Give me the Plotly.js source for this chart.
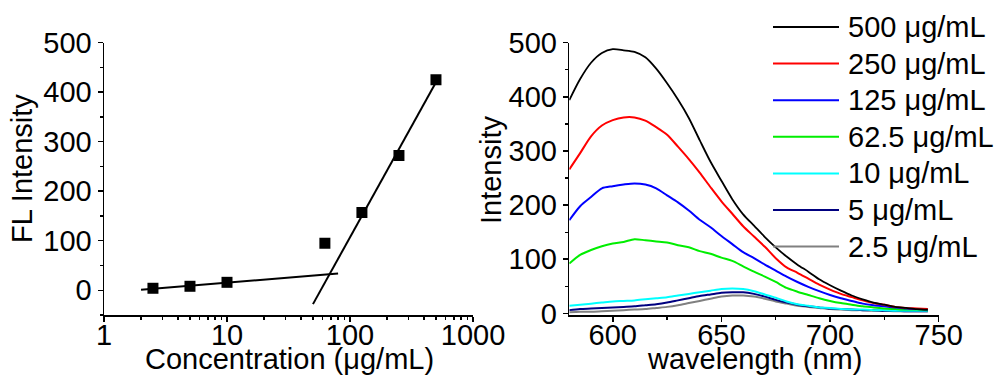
<!DOCTYPE html>
<html>
<head>
<meta charset="utf-8">
<script src="https://cdn.plot.ly/plotly-3.0.1.min.js"></script>
<style>html,body{margin:0;padding:0;background:#fff;}#chart{width:996px;height:378px;}</style>
</head>
<body>
<div id="chart"></div>
<script>
// ---- Left panel: FL intensity vs concentration ----
const conc = [2.5, 5, 10, 62.5, 125, 250, 500];
const flIntensity = [4, 8, 16, 95, 157, 272, 425];
const fitLowX = [2, 80];
const fitLowY = [1, 34];
const fitHighX = [50, 500];
const fitHighY = [-28, 420];
const concTicks = [1, 10, 100, 1000];
const concTickText = ['1', '10', '100', '1000'];
const leftXTitle = 'Concentration (\u03bcg/mL)';
const leftYTitle = 'FL Intensity';

// ---- Right panel: emission spectra ----
const wavelength = [580,585,590,595,600,605,610,615,620,625,630,635,640,645,650,655,660,665,670,675,680,685,690,695,700,705,710,715,720,725,730,735,740,745];
const spec500  = [394,433,463,481,488,486,483,473,452,425,395,361,320,280,245,211,183,162,141,122,105,90,77,63,52,42,33,26,20,16,12,10,8,7];
const spec250  = [266,296,327,347,357,362,362,356,344,330,308,285,260,233,207,184,161,142,123,102,85,75,64,53,44,36,30,24,19,16,12,10,9,8];
const spec125  = [172,198,215,231,235,238,240,238,231,218,205,190,173,159,143,128,113,102,90,79,68,58,49,41,34,28,23,18,15,13,11,9,8,7];
const spec62_5 = [92,108,117,124,129,132,137,135,133,131,126,122,115,110,103,97,87,77,68,58,47,40,34,28,23,19,16,13,11,9,8,7,7,6];
const spec10   = [14,16,18,20,22,23,24,26,28,30,33,36,39,42,45,46,45,41,35,29,22,17,14,11,10,8,7,7,6,6,5,5,5,5];
const spec5    = [6,8,9,10,11,12,13,15,17,20,24,28,32,35,38,39,39,36,31,25,20,16,13,11,9,8,7,6,6,5,5,4,4,4];
const spec2_5  = [2,3,3,4,5,6,7,8,10,12,15,19,23,27,31,33,33,31,27,22,18,14,12,10,8,7,6,6,5,5,4,4,4,4];
const seriesNames = ['500 \u03bcg/mL','250 \u03bcg/mL','125 \u03bcg/mL','62.5 \u03bcg/mL','10 \u03bcg/mL','5 \u03bcg/mL','2.5 \u03bcg/mL'];
const seriesColors = ['#000000','#ff0000','#0000ff','#00ee00','#00ffff','#000080','#808080'];
const seriesData = [spec500, spec250, spec125, spec62_5, spec10, spec5, spec2_5];
const rightXTitle = 'wavelength (nm)';
const rightYTitle = 'Intensity';

const FONT = 'Liberation Sans, Arial, sans-serif';
const FS = 29;
const W = 996, H = 378;

const traces = [];
traces.push({x: fitLowX, y: fitLowY, xaxis: 'x', yaxis: 'y', mode: 'lines', line: {color: '#000', width: 2}, showlegend: false, hoverinfo: 'skip'});
traces.push({x: fitHighX, y: fitHighY, xaxis: 'x', yaxis: 'y', mode: 'lines', line: {color: '#000', width: 2}, showlegend: false, hoverinfo: 'skip'});
traces.push({x: conc, y: flIntensity, xaxis: 'x', yaxis: 'y', mode: 'markers', marker: {symbol: 'square', size: 11, color: '#000'}, showlegend: false});

for (let i = seriesData.length - 1; i >= 0; i--) {
  traces.push({x: wavelength, y: seriesData[i], xaxis: 'x2', yaxis: 'y2', mode: 'lines', name: seriesNames[i],
    line: {color: seriesColors[i], width: i === 0 ? 1.8 : 2, shape: 'spline', smoothing: 0.8}, showlegend: false});
}

// custom legend (long line samples like the reference)
const shapes = [];
const annotations = [];
for (let i = 0; i < seriesNames.length; i++) {
  const yPx = 27 + i * 36.6;
  const yp = 1 - yPx / H;
  shapes.push({type: 'line', xref: 'paper', yref: 'paper', x0: 773 / W, x1: 839 / W, y0: yp, y1: yp,
    line: {color: seriesColors[i], width: 2}});
  annotations.push({xref: 'paper', yref: 'paper', x: 846 / W, y: yp, xanchor: 'left', yanchor: 'middle',
    text: seriesNames[i], showarrow: false, font: {family: FONT, size: FS, color: '#000'}});
}

// axis titles placed as annotations for exact positioning
const titleFont = {family: FONT, size: FS, color: '#000'};
annotations.push({xref: 'paper', yref: 'paper', x: 289 / W, y: 1 - 359 / H, xanchor: 'center', yanchor: 'middle', text: leftXTitle, showarrow: false, font: titleFont});
annotations.push({xref: 'paper', yref: 'paper', x: 754 / W, y: 1 - 359 / H, xanchor: 'center', yanchor: 'middle', text: rightXTitle, showarrow: false, font: titleFont});
annotations.push({xref: 'paper', yref: 'paper', x: 22 / W, y: 1 - 169 / H, xanchor: 'center', yanchor: 'middle', text: leftYTitle, textangle: -90, showarrow: false, font: titleFont});
annotations.push({xref: 'paper', yref: 'paper', x: 491 / W, y: 1 - 170 / H, xanchor: 'center', yanchor: 'middle', text: rightYTitle, textangle: -90, showarrow: false, font: titleFont});

const axisCommon = {
  showline: true, linecolor: '#000', linewidth: 1.5, showgrid: false, zeroline: false,
  ticks: 'outside', ticklen: 5, tickwidth: 1.5, tickcolor: '#000',
  tickfont: {family: FONT, size: FS, color: '#000'}, fixedrange: true
};
const minorTicks = [];
for (let d = 1; d <= 100; d *= 10) for (let k = 2; k <= 9; k++) minorTicks.push(k * d);

const layout = {
  width: W, height: H, margin: {l: 0, r: 0, t: 0, b: 0},
  paper_bgcolor: '#fff', plot_bgcolor: '#fff', showlegend: false,
  xaxis: Object.assign({}, axisCommon, {
    type: 'log', range: [0, 3], domain: [104 / W, 473 / W], anchor: 'y',
    tickmode: 'array', tickvals: concTicks, ticktext: concTickText, ticklabelstandoff: -11,
    minor: {ticks: 'outside', ticklen: 3, tickwidth: 1.2, tickcolor: '#000', tickmode: 'array', tickvals: minorTicks, showgrid: false}
  }),
  yaxis: Object.assign({}, axisCommon, {
    range: [-50, 500], domain: [(H - 315) / H, (H - 42.7) / H], anchor: 'x',
    tickmode: 'linear', tick0: 0, dtick: 100,
    minor: {ticks: 'outside', ticklen: 3, tickwidth: 1.2, tickcolor: '#000', dtick: 50, tick0: 0, showgrid: false}
  }),
  xaxis2: Object.assign({}, axisCommon, {
    range: [580, 750], domain: [569.3 / W, 938.7 / W], anchor: 'y2',
    tickmode: 'linear', tick0: 600, dtick: 50, ticklabelstandoff: -11,
    minor: {ticks: 'outside', ticklen: 3, tickwidth: 1.2, tickcolor: '#000', dtick: 25, tick0: 575, showgrid: false}
  }),
  yaxis2: Object.assign({}, axisCommon, {
    range: [-3, 500], domain: [(H - 315) / H, (H - 42.7) / H], anchor: 'x2',
    tickmode: 'linear', tick0: 0, dtick: 100,
    minor: {ticks: 'outside', ticklen: 3, tickwidth: 1.2, tickcolor: '#000', dtick: 50, tick0: 0, showgrid: false}
  }),
  shapes: shapes,
  annotations: annotations
};

Plotly.newPlot('chart', traces, layout, {staticPlot: true, displayModeBar: false});
</script>
</body>
</html>
